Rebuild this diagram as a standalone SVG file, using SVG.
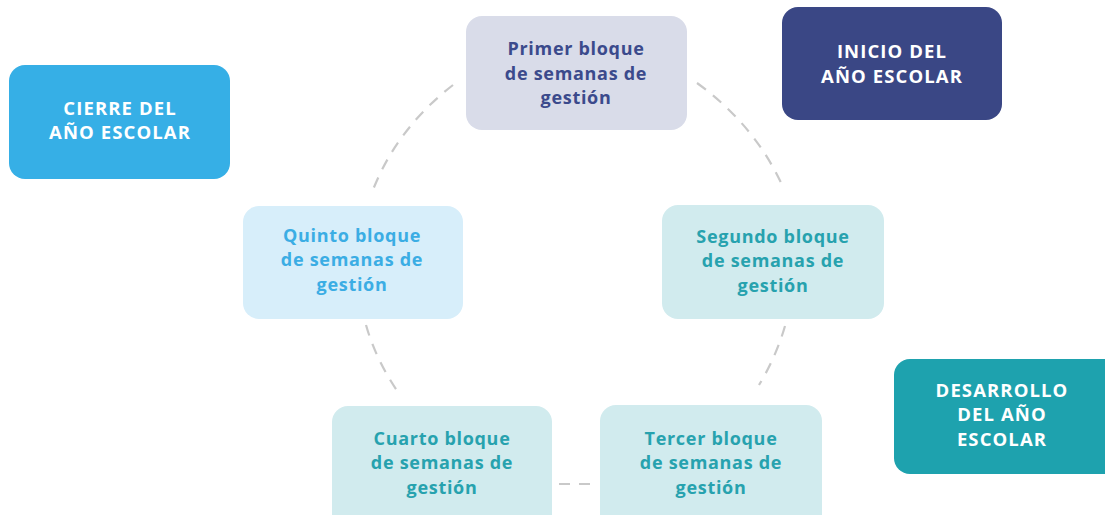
<svg xmlns="http://www.w3.org/2000/svg" width="1105" height="515" viewBox="0 0 1105 515">
<style>
text{font-family:"Open Sans","Liberation Sans",sans-serif;font-weight:700;font-size:18px;text-anchor:middle;letter-spacing:0.7px}
.w{fill:#ffffff;font-size:18.5px;letter-spacing:1.1px}
.dash{fill:none;stroke:#c9c9c9;stroke-width:2.2;stroke-dasharray:11 9;stroke-linecap:butt}
</style>
<rect width="1105" height="515" fill="#ffffff"/>
<g id="connectors">
<path class="dash" d="M453,85 Q395,130 371,195"/>
<path class="dash" d="M697,83 Q755,125 783,187"/>
<path class="dash" d="M785,326 Q776,357 759,385"/>
<path class="dash" d="M366,325 Q376,360 398,392"/>
<path class="dash" d="M559,484 L595,484"/>
</g>
<g id="primer">
<rect x="466" y="16" width="221" height="114" rx="16" fill="#d9dce9"/>
<text x="576" y="55" fill="#3b4a8c">Primer bloque</text>
<text x="576" y="80" fill="#3b4a8c">de semanas de</text>
<text x="576" y="104" fill="#3b4a8c">gestión</text>
</g>
<g id="inicio">
<rect x="782" y="7" width="220" height="113" rx="16" fill="#3a4785"/>
<text class="w" x="892" y="58">INICIO DEL</text>
<text class="w" x="892" y="83">AÑO ESCOLAR</text>
</g>
<g id="cierre">
<rect x="9" y="65" width="221" height="114" rx="16" fill="#36afe6"/>
<text class="w" x="120" y="115">CIERRE DEL</text>
<text class="w" x="120" y="139">AÑO ESCOLAR</text>
</g>
<g id="desarrollo">
<rect x="894" y="359" width="225" height="115" rx="16" fill="#1ea2ae"/>
<text class="w" x="1002" y="397">DESARROLLO</text>
<text class="w" x="1002" y="421">DEL AÑO</text>
<text class="w" x="1002" y="446">ESCOLAR</text>
</g>
<g id="segundo">
<rect x="662" y="205" width="222" height="114" rx="16" fill="#d1ebee"/>
<text x="773" y="243" fill="#27a2ae">Segundo bloque</text>
<text x="773" y="267" fill="#27a2ae">de semanas de</text>
<text x="773" y="292" fill="#27a2ae">gestión</text>
</g>
<g id="quinto">
<rect x="243" y="206" width="220" height="113" rx="16" fill="#d7eefa"/>
<text x="352" y="242" fill="#3bade4">Quinto bloque</text>
<text x="352" y="266" fill="#3bade4">de semanas de</text>
<text x="352" y="291" fill="#3bade4">gestión</text>
</g>
<g id="tercer">
<rect x="600" y="405" width="222" height="125" rx="16" fill="#d1ebee"/>
<text x="711" y="445" fill="#27a2ae">Tercer bloque</text>
<text x="711" y="469" fill="#27a2ae">de semanas de</text>
<text x="711" y="494" fill="#27a2ae">gestión</text>
</g>
<g id="cuarto">
<rect x="332" y="406" width="220" height="125" rx="16" fill="#d1ebee"/>
<text x="442" y="445" fill="#27a2ae">Cuarto bloque</text>
<text x="442" y="469" fill="#27a2ae">de semanas de</text>
<text x="442" y="494" fill="#27a2ae">gestión</text>
</g>
</svg>
